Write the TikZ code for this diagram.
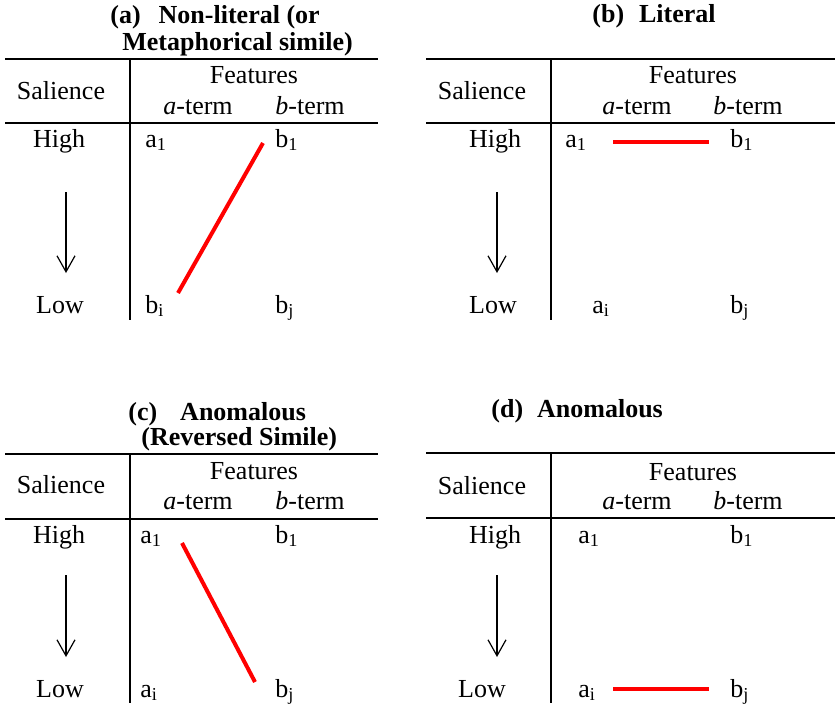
\documentclass[tikz,border=0pt]{standalone}
\usepackage{fontspec}
\setmainfont{Liberation Serif}
\usetikzlibrary{arrows.meta}

\begin{document}
\begin{tikzpicture}[
    x=0.5pt, y=-0.5pt,
    font=\fontsize{13}{15}\selectfont,
    t/.style={inner sep=0pt, anchor=base},
    tl/.style={t, anchor=base west},
    ttl/.style={tl, font=\fontsize{13}{15}\selectfont\bfseries},
    rl/.style={line width=0.65pt},
    mk/.style={draw=red, line width=2pt},
    ar/.style={-{Straight Barb[length=8pt,width=9pt]}, line width=0.6pt},
]
    \useasboundingbox (0,0) rectangle (835,707);

    % (a) non-literal
    \node[ttl] (tiA1) at (110,23) {(a)\hspace{9pt}Non-literal (or};
    \node[ttl] (tiA2) at (122,50) {Metaphorical simile)};
    \draw[rl] (5,59) -- (378,59);
    \draw[rl] (5,123) -- (378,123);
    \draw[rl] (130,59) -- (130,320);
    \node[t] (salA) at (61,99) {Salience};
    \node[t] (feaA) at (254,83) {Features};
    \node[tl] (atA) at (163,114) {\textit{a}-term};
    \node[tl] (btA) at (275,114) {\textit{b}-term};
    \node[t] (hiA) at (59,147) {High};
    \node[t] (loA) at (60,313) {Low};
    \node[tl] (a1A) at (145,147) {a\textsubscript{1}};
    \node[tl] (b1A) at (275,147) {b\textsubscript{1}};
    \node[tl] (biA) at (145,313) {b\textsubscript{i}};
    \node[tl] (bjA) at (275,313) {b\textsubscript{j}};
    \coordinate (upA) at (66,192);
    \coordinate (dnA) at (66,273);
    \coordinate (mA1) at (178,293);
    \coordinate (mA2) at (263,143);
    \draw[ar] (upA) -- (dnA);
    \draw[mk] (mA1) -- (mA2);

    % (b) literal
    \node[ttl] (tiB) at (592,22) {(b)\hspace{7.5pt}Literal};
    \draw[rl] (426,59) -- (835,59);
    \draw[rl] (426,123) -- (835,123);
    \draw[rl] (551,59) -- (551,320);
    \node[t] (salB) at (482,99) {Salience};
    \node[t] (feaB) at (693,83) {Features};
    \node[tl] (atB) at (602,114) {\textit{a}-term};
    \node[tl] (btB) at (713,114) {\textit{b}-term};
    \node[t] (hiB) at (495,147) {High};
    \node[t] (loB) at (493,313) {Low};
    \node[tl] (a1B) at (565,147) {a\textsubscript{1}};
    \node[tl] (b1B) at (730,147) {b\textsubscript{1}};
    \node[tl] (aiB) at (592,313) {a\textsubscript{i}};
    \node[tl] (bjB) at (730,313) {b\textsubscript{j}};
    \coordinate (upB) at (497,192);
    \coordinate (dnB) at (497,273);
    \coordinate (mB1) at (613,142);
    \coordinate (mB2) at (709,142);
    \draw[ar] (upB) -- (dnB);
    \draw[mk] (mB1) -- (mB2);

    % (c) anomalous, reversed
    \node[ttl] (tiC1) at (128,420) {(c)\hspace{11.5pt}Anomalous};
    \node[ttl] (tiC2) at (141,445) {(Reversed Simile)};
    \draw[rl] (5,454) -- (378,454);
    \draw[rl] (5,519) -- (378,519);
    \draw[rl] (130,454) -- (130,703);
    \node[t] (salC) at (61,493) {Salience};
    \node[t] (feaC) at (254,479) {Features};
    \node[tl] (atC) at (163,509) {\textit{a}-term};
    \node[tl] (btC) at (275,509) {\textit{b}-term};
    \node[t] (hiC) at (59,543) {High};
    \node[t] (loC) at (60,697) {Low};
    \node[tl] (a1C) at (140,543) {a\textsubscript{1}};
    \node[tl] (b1C) at (275,543) {b\textsubscript{1}};
    \node[tl] (aiC) at (140,697) {a\textsubscript{i}};
    \node[tl] (bjC) at (275,697) {b\textsubscript{j}};
    \coordinate (upC) at (66,575);
    \coordinate (dnC) at (66,657);
    \coordinate (mC1) at (182,543);
    \coordinate (mC2) at (255,682);
    \draw[ar] (upC) -- (dnC);
    \draw[mk] (mC1) -- (mC2);

    % (d) anomalous
    \node[ttl] (tiD) at (491,417) {(d)\hspace{7pt}Anomalous};
    \draw[rl] (426,453) -- (835,453);
    \draw[rl] (426,518) -- (835,518);
    \draw[rl] (551,453) -- (551,703);
    \node[t] (salD) at (482,494) {Salience};
    \node[t] (feaD) at (693,480) {Features};
    \node[tl] (atD) at (602,509) {\textit{a}-term};
    \node[tl] (btD) at (713,509) {\textit{b}-term};
    \node[t] (hiD) at (495,543) {High};
    \node[t] (loD) at (482,697) {Low};
    \node[tl] (a1D) at (578,543) {a\textsubscript{1}};
    \node[tl] (b1D) at (730,543) {b\textsubscript{1}};
    \node[tl] (aiD) at (578,697) {a\textsubscript{i}};
    \node[tl] (bjD) at (730,697) {b\textsubscript{j}};
    \coordinate (upD) at (497,575);
    \coordinate (dnD) at (497,657);
    \coordinate (mD1) at (613,689);
    \coordinate (mD2) at (709,689);
    \draw[ar] (upD) -- (dnD);
    \draw[mk] (mD1) -- (mD2);
\end{tikzpicture}
\end{document}
